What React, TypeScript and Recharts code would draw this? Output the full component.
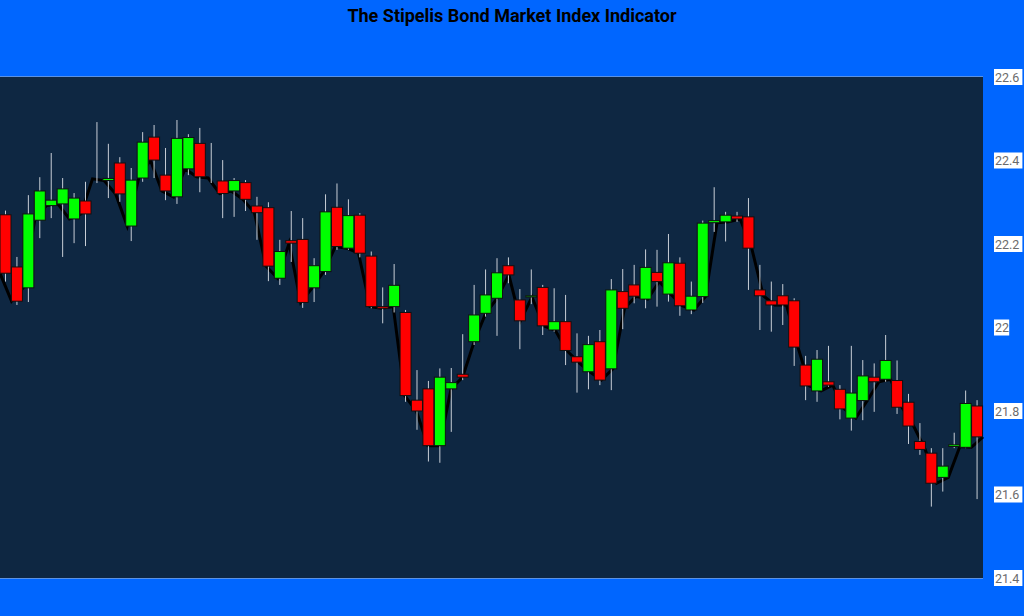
import React from 'react'
import { ComposedChart, Bar, Line, XAxis, YAxis, CartesianGrid } from 'recharts'

// OHLC values, one entry per session
const opens = [
  22.27, 22.145, 22.095, 22.257, 22.292, 22.296, 22.26, 22.303, 22.356, 22.352,
  22.394, 22.243, 22.358, 22.456, 22.365, 22.313, 22.38, 22.441, 22.358, 22.351,
  22.327, 22.347, 22.291, 22.287, 22.118, 22.208, 22.211, 22.095, 22.134, 22.288,
  22.19, 22.269, 22.171, 22.05, 22.05, 22.036, 21.826, 21.853, 21.717, 21.853,
  21.888, 21.966, 22.034, 22.07, 22.148, 22.066, 22.073, 22.096, 21.994, 22.014,
  21.93, 21.894, 21.966, 21.901, 22.086, 22.102, 22.068, 22.132, 22.08, 22.154,
  22.042, 22.074, 22.251, 22.253, 22.267, 22.265, 22.09, 22.064, 22.076, 22.064,
  21.91, 21.848, 21.87, 21.852, 21.783, 21.825, 21.881, 21.876, 21.873, 21.821,
  21.727, 21.699, 21.641, 21.715, 21.713, 21.812,
]
const highs = [
  22.28, 22.169, 22.317, 22.36, 22.418, 22.358, 22.322, 22.349, 22.492, 22.44,
  22.408, 22.382, 22.468, 22.485, 22.43, 22.497, 22.463, 22.478, 22.442, 22.401,
  22.358, 22.353, 22.313, 22.3, 22.21, 22.279, 22.262, 22.166, 22.319, 22.345,
  22.307, 22.274, 22.182, 22.096, 22.152, 22.042, 21.898, 21.872, 21.902, 21.903,
  21.984, 22.102, 22.139, 22.166, 22.168, 22.092, 22.139, 22.102, 22.094, 22.078,
  21.986, 21.98, 21.994, 22.116, 22.14, 22.15, 22.187, 22.186, 22.224, 22.168,
  22.11, 22.256, 22.336, 22.277, 22.277, 22.31, 22.15, 22.11, 22.104, 22.07,
  21.932, 21.946, 21.956, 21.862, 21.956, 21.922, 21.914, 21.982, 21.921, 21.841,
  21.771, 21.711, 21.711, 21.748, 21.849, 21.826,
]
const lows = [
  22.11, 22.054, 22.061, 22.214, 22.262, 22.169, 22.202, 22.195, 22.346, 22.31,
  22.301, 22.207, 22.349, 22.358, 22.305, 22.296, 22.365, 22.324, 22.346, 22.262,
  22.265, 22.279, 22.21, 22.111, 22.102, 22.157, 22.047, 22.061, 22.126, 22.186,
  22.186, 22.168, 22.046, 22.01, 22.036, 21.822, 21.755, 21.679, 21.676, 21.75,
  21.874, 21.958, 22.026, 21.98, 22.106, 21.948, 22.056, 21.982, 21.99, 21.91,
  21.844, 21.852, 21.862, 21.85, 21.996, 22.058, 22.046, 22.05, 22.062, 22.028,
  22.032, 22.059, 22.229, 22.206, 22.253, 22.09, 21.994, 21.99, 22.006, 21.908,
  21.826, 21.822, 21.858, 21.78, 21.753, 21.778, 21.798, 21.87, 21.793, 21.721,
  21.695, 21.571, 21.607, 21.711, 21.711, 21.589,
]
const closes = [
  22.13, 22.063, 22.272, 22.327, 22.305, 22.332, 22.31, 22.272, 22.356, 22.357,
  22.32, 22.353, 22.444, 22.401, 22.327, 22.453, 22.455, 22.361, 22.358, 22.321,
  22.352, 22.307, 22.275, 22.147, 22.182, 22.202, 22.06, 22.148, 22.277, 22.194,
  22.268, 22.178, 22.05, 22.046, 22.101, 21.837, 21.8, 21.717, 21.881, 21.868,
  21.881, 22.03, 22.078, 22.131, 22.126, 22.016, 22.076, 22.004, 22.014, 21.945,
  21.917, 21.959, 21.874, 22.09, 22.046, 22.075, 22.144, 22.11, 22.155, 22.052,
  22.075, 22.25, 22.256, 22.269, 22.26, 22.19, 22.076, 22.054, 22.054, 21.953,
  21.86, 21.924, 21.862, 21.805, 21.843, 21.884, 21.87, 21.921, 21.809, 21.764,
  21.708, 21.627, 21.668, 21.719, 21.818, 21.738,
]

const yTicks = [21.4, 21.6, 21.8, 22, 22.2, 22.4, 22.6]
const yTickLabels = ['21.4', '21.6', '21.8', '22', '22.2', '22.4', '22.6']

const UP = '#00ff00'
const DOWN = '#ff0000'

const data = opens.map((open, i) => ({
  day: `D${i + 1}`,
  open,
  high: highs[i],
  low: lows[i],
  close: closes[i],
  range: [lows[i], highs[i]],
  bodyLow: Math.min(open, closes[i]),
}))

const W = 1024
const H = 616
const MARGIN = { top: 77, right: 0, bottom: 38, left: 0 }

const Candle = (props: any) => {
  const { x, y, width, height, payload } = props
  if (!payload) return null
  const top = Math.min(y, y + height)
  const h = Math.abs(height)
  const span = payload.high - payload.low
  const ratio = span > 0 ? h / span : 0
  const bodyTop = top + (payload.high - Math.max(payload.open, payload.close)) * ratio
  const bodyBottom = top + (payload.high - Math.min(payload.open, payload.close)) * ratio
  const cx = x + width / 2
  const up = payload.close >= payload.open
  return (
    <g>
      <line x1={cx} x2={cx} y1={top} y2={top + h} stroke="#c8ced6" strokeWidth={1} />
      <rect
        x={x}
        y={bodyTop}
        width={width}
        height={Math.max(bodyBottom - bodyTop, 0)}
        fill={payload.close === payload.open ? '#000' : up ? UP : DOWN}
        stroke="#111"
        strokeWidth={1}
      />
    </g>
  )
}

const PriceTick = (props: any) => {
  const { x, y, index } = props
  const label = yTickLabels[index] ?? String(props.payload.value)
  const w = label.length * 6.6 + 2
  return (
    <g>
      <rect x={x + 3} y={y - 8} width={w} height={16} fill="#fff" />
      <text x={x + 4} y={y} dy={4.5} fontSize={12.5} fill="#6b6b6b" fontFamily="Roboto, Arial, sans-serif">
        {label}
      </text>
    </g>
  )
}

export default function App() {
  return (
    <div style={{ position: 'absolute', left: 0, top: 0, width: W, height: H, background: '#0066ff', overflow: 'hidden' }}>
      <div
        style={{
          position: 'absolute',
          top: 5,
          width: W,
          textAlign: 'center',
          fontFamily: 'Roboto, Arial, sans-serif',
          fontWeight: 700,
          fontSize: 18,
          color: '#000',
        }}
      >
        The Stipelis Bond Market Index Indicator
      </div>
      {/* back layer: plot background, grid, price axis and the body-low line */}
      <div style={{ position: 'absolute', left: 0, top: 0 }}>
        <ComposedChart width={W} height={H} data={data} margin={MARGIN}>
          <rect x={0} y={77} width={983} height={501} fill="#0e2742" />
          <CartesianGrid vertical={false} stroke="#b7bec7" strokeWidth={1} />
          <XAxis dataKey="day" hide />
          <YAxis
            orientation="right"
            width={41}
            domain={[21.4, 22.6]}
            ticks={yTicks}
            axisLine={false}
            tickLine={false}
            tick={<PriceTick />}
            interval={0}
          />
          <Line dataKey="bodyLow" stroke="#000" strokeWidth={3} dot={false} isAnimationActive={false} />
        </ComposedChart>
      </div>
      {/* front layer: candles drawn over the line */}
      <div style={{ position: 'absolute', left: 0, top: 0 }}>
        <ComposedChart width={W} height={H} data={data} margin={MARGIN} barSize={11}>
          <XAxis dataKey="day" hide />
          <YAxis orientation="right" width={41} domain={[21.4, 22.6]} ticks={yTicks} axisLine={false} tickLine={false} tick={false} />
          <Bar dataKey="range" shape={<Candle />} isAnimationActive={false} />
        </ComposedChart>
      </div>
    </div>
  )
}
